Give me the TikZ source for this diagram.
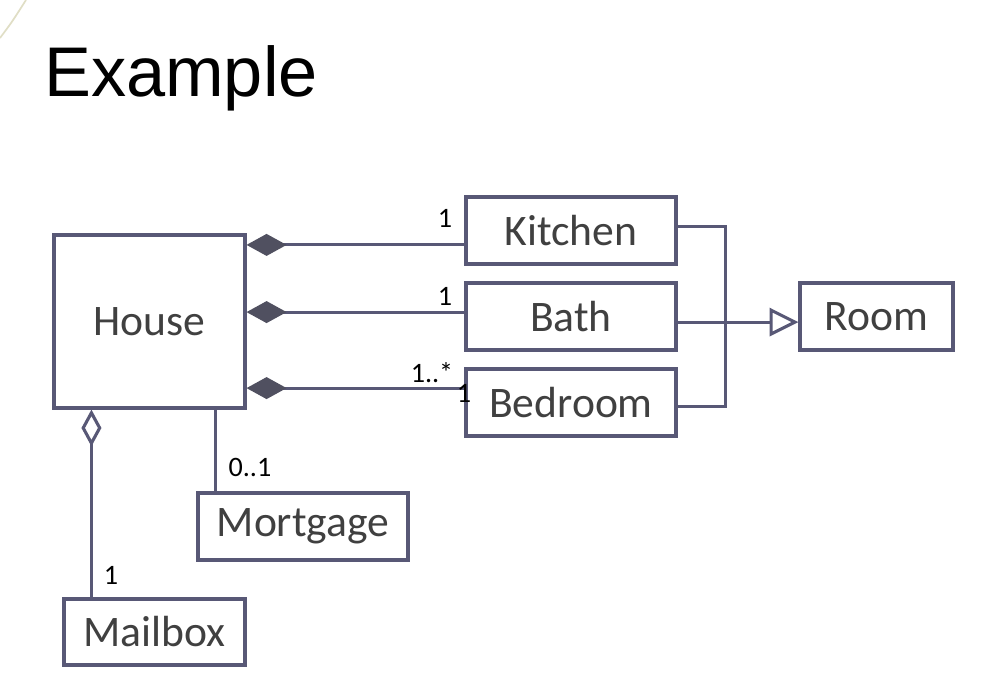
\documentclass[tikz,border=0pt]{standalone}
\usepackage{fontspec}
\setmainfont{Carlito}
\newfontfamily\titlefont{Liberation Sans}
\usetikzlibrary{arrows.meta}
\definecolor{umlline}{RGB}{88,88,118}
\definecolor{umlfill}{RGB}{80,80,96}
\definecolor{umltext}{RGB}{64,64,64}

\begin{document}
\begin{tikzpicture}[x=0.025cm, y=-0.025cm,
	umlclass/.style={draw=umlline, line width=2.2pt, inner sep=0pt, text=umltext, font=\fontsize{31}{36}\selectfont},
	multi/.style={text=black, inner sep=0pt, font=\fontsize{20}{23}\selectfont},
	assoc/.style={draw=umlline, line width=2.2pt},
	compo/.style={assoc, -{Diamond[length=1cm, width=0.55cm, fill=umlfill, color=umlfill]}},
	aggr/.style={assoc, -{Diamond[open, length=0.92cm, width=0.5cm, fill=white]}},
	inherit/.style={assoc, -{Triangle[open, length=0.72cm, width=0.7cm, fill=white]}}]
			%%%%% START %%%%%
			
			\useasboundingbox[fill=white] (0, 0) rectangle (1008, 690);
			\draw[line width=1.2pt, color=yellow!30!gray!40] (0, 38) .. controls (12, 22) .. (26, 0);
			
			\node[anchor=base west, inner sep=0pt, font=\titlefont\fontsize{50}{60}\selectfont] (title) at (44, 97) {Example};
			
			\node[umlclass, minimum width=4.775cm, minimum height=4.325cm] (house) at (149.5, 321.5) {House};
			\node[umlclass, minimum width=5.25cm, minimum height=1.675cm] (kitchen) at (571, 230.5) {Kitchen};
			\node[umlclass, minimum width=5.25cm, minimum height=1.675cm] (bath) at (571, 316.5) {Bath};
			\node[umlclass, minimum width=5.25cm, minimum height=1.675cm] (bedroom) at (571, 402.5) {Bedroom};
			\node[umlclass, minimum width=3.825cm, minimum height=1.675cm] (room) at (876.5, 316.5) {Room};
			\node[umlclass, minimum width=5.25cm, minimum height=1.675cm] (mortgage) at (303, 526.5) {Mortgage};
			\node[umlclass, minimum width=4.525cm, minimum height=1.65cm] (mailbox) at (154.5, 632) {Mailbox};
			
			% composition
			\coordinate (kw) at ([yshift=-0.36cm]kitchen.west);
			\coordinate (bw) at ([yshift=0.11cm]bath.west);
			\coordinate (rw) at ([yshift=0.36cm]bedroom.west);
			\draw[compo] (kw) -- (kw -| house.east);
			\draw[compo] (bw) -- (bw -| house.east);
			\draw[compo] (rw) -- (rw -| house.east);
			\node[multi] (m1) at (445, 218) {1};
			\node[multi] (m2) at (445, 296) {1};
			\node[multi] (m3) at (432, 373) {1..*};
			\node[multi] (m4) at (464, 393) {1};
			
			% generalization
			\coordinate (ke) at ([yshift=0.11cm]kitchen.east);
			\coordinate (be) at ([yshift=-0.11cm]bedroom.east);
			\coordinate (he) at ([yshift=-0.14cm]bath.east);
			\coordinate (join) at ([xshift=1.2cm]kitchen.east);
			\draw[assoc] (ke) -- (ke -| join) -- (be -| join) -- (be);
			\draw[inherit] (he) -- (he -| room.west);
			
			% association
			\coordinate (mt) at ([xshift=0.475cm]mortgage.north west);
			\draw[assoc] (mt) -- (mt |- house.south);
			\node[multi] (m5) at (250, 467) {0..1};
			
			% aggregation
			\coordinate (mb) at ([xshift=0.725cm]mailbox.north west);
			\draw[aggr] (mb) -- (mb |- house.south);
			\node[multi] (m6) at (111, 575) {1};
			
			%%%%% END %%%%%
\end{tikzpicture}
\end{document}
